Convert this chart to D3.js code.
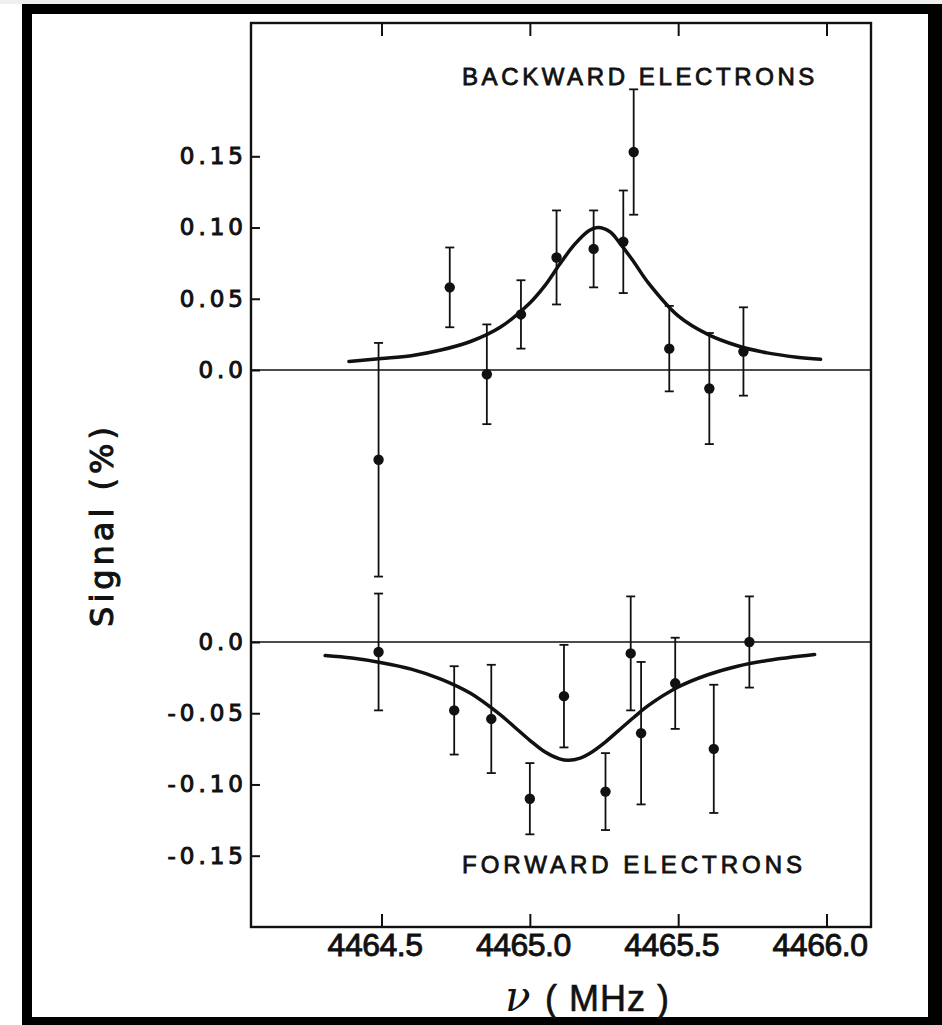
<!DOCTYPE html>
<html>
<head>
<meta charset="utf-8">
<script src="https://cdn.jsdelivr.net/npm/d3@7"></script>
<style>
  html, body { margin: 0; padding: 0; background: #ffffff; }
  svg { display: block; }
</style>
</head>
<body>
<svg id="chart" width="942" height="1025"></svg>
<script>
// Backward-electron signal: frequency (MHz), signal (%), error bar half-length
const freqBack = [4464.49, 4464.73, 4464.855, 4464.97, 4465.09, 4465.215, 4465.315, 4465.35, 4465.47, 4465.605, 4465.72];
const sigBack  = [-0.063, 0.058, -0.003, 0.039, 0.079, 0.085, 0.090, 0.153, 0.015, -0.013, 0.013];
const errBack  = [0.082, 0.028, 0.035, 0.024, 0.033, 0.027, 0.036, 0.044, 0.030, 0.039, 0.031];

// Forward-electron signal
const freqFwd = [4464.49, 4464.745, 4464.87, 4465.0, 4465.115, 4465.255, 4465.34, 4465.375, 4465.49, 4465.62, 4465.74];
const sigFwd  = [-0.007, -0.048, -0.054, -0.110, -0.038, -0.105, -0.008, -0.064, -0.029, -0.075, 0.0];
const errFwd  = [0.041, 0.031, 0.038, 0.025, 0.036, 0.027, 0.040, 0.050, 0.032, 0.045, 0.032];

// Resonance fit curves
const fitBackFreq = [4464.39, 4464.5, 4464.6, 4464.7, 4464.8, 4464.9, 4465.0, 4465.05, 4465.1, 4465.15, 4465.2, 4465.23, 4465.27, 4465.3, 4465.35, 4465.4, 4465.5, 4465.6, 4465.7, 4465.8, 4465.9, 4465.98];
const fitBackSig  = [0.006, 0.008, 0.010, 0.014, 0.020, 0.030, 0.047, 0.059, 0.074, 0.088, 0.098, 0.100, 0.097, 0.090, 0.076, 0.061, 0.038, 0.025, 0.017, 0.012, 0.009, 0.0075];

const fitFwdFreq = [4464.31, 4464.4, 4464.5, 4464.6, 4464.7, 4464.8, 4464.9, 4464.95, 4465.0, 4465.05, 4465.1, 4465.13, 4465.17, 4465.2, 4465.25, 4465.3, 4465.35, 4465.4, 4465.5, 4465.6, 4465.7, 4465.8, 4465.96];
const fitFwdSig  = [-0.0095, -0.0113, -0.0145, -0.019, -0.026, -0.036, -0.051, -0.060, -0.069, -0.077, -0.082, -0.083, -0.0815, -0.0785, -0.071, -0.062, -0.053, -0.0445, -0.0316, -0.023, -0.017, -0.013, -0.0088];

// Axis ticks and labels
const freqTicks = [4464.5, 4465.0, 4465.5, 4466.0];
const backTicks = [0, 0.05, 0.10, 0.15];
const backTickLabels = ["0.0", "0.05", "0.10", "0.15"];
const fwdTicks = [0, -0.05, -0.10, -0.15];
const fwdTickLabels = ["0.0", "-0.05", "-0.10", "-0.15"];

const svg = d3.select("#chart");
const W = 942, H = 1025;

// Page and outer black border
svg.append("rect").attr("x", 0).attr("y", 0).attr("width", W).attr("height", H).attr("fill", "#ffffff");
svg.append("rect").attr("x", 0).attr("y", 0).attr("width", W).attr("height", 4).attr("fill", "#eef0f0");
svg.append("path")
  .attr("d", `M22,4H${W}V${H}H22Z M32,14V1017H928V14Z`)
  .attr("fill", "#000")
  .attr("fill-rule", "evenodd");

// Plot box
const L = 251, R = 871, T = 23, B = 927;

const x = d3.scaleLinear().domain([4464.06, 4466.15]).range([L, R]);
const yBack = d3.scaleLinear().domain([0, 0.15]).range([370, 156.3]);
const yFwd = d3.scaleLinear().domain([0, -0.15]).range([642, 855.7]);

const ink = "#111";

// thicken text strokes slightly (printed lettering)
function inked(sel, w) {
  sel.attr("stroke", ink).attr("stroke-width", w).attr("paint-order", "stroke");
}

// Bottom axis with inward ticks
const gx = svg.append("g").attr("transform", `translate(0,${B})`)
  .call(d3.axisBottom(x).tickValues(freqTicks).tickSize(-13).tickPadding(6).tickFormat(d3.format(".1f")));
gx.select(".domain").remove();
gx.selectAll(".tick line").attr("stroke", ink).attr("stroke-width", 2);
gx.selectAll(".tick text")
  .attr("font-family", "'Liberation Sans', Arial, sans-serif")
  .attr("font-size", 32)
  .attr("fill", ink)
  .attr("dx", -7)
  .attr("letter-spacing", "-0.5px")
  .call(inked, 0.9);

// Top axis, ticks only
const gxt = svg.append("g").attr("transform", `translate(0,${T})`)
  .call(d3.axisTop(x).tickValues(freqTicks).tickSize(-13).tickFormat(""));
gxt.select(".domain").remove();
gxt.selectAll(".tick line").attr("stroke", ink).attr("stroke-width", 2);

// Left axes for the two traces
function leftAxis(scale, ticks, labels) {
  const g = svg.append("g").attr("transform", `translate(${L},0)`)
    .call(d3.axisLeft(scale).tickValues(ticks).tickSize(-9).tickPadding(8)
      .tickFormat((d, i) => labels[i]));
  g.select(".domain").remove();
  g.selectAll(".tick line").attr("stroke", ink).attr("stroke-width", 2);
  g.selectAll(".tick text")
    .attr("font-family", "'DejaVu Sans', sans-serif")
    .attr("font-size", 23)
    .attr("fill", ink)
    .attr("letter-spacing", "4px")
    .attr("dx", 4)
    .call(inked, 1.0);
  return g;
}
leftAxis(yBack, backTicks, backTickLabels);
leftAxis(yFwd, fwdTicks, fwdTickLabels);

// Zero reference lines
svg.append("line").attr("x1", L).attr("x2", R).attr("y1", yBack(0)).attr("y2", yBack(0))
  .attr("stroke", ink).attr("stroke-width", 1.4);
svg.append("line").attr("x1", L).attr("x2", R).attr("y1", yFwd(0)).attr("y2", yFwd(0))
  .attr("stroke", ink).attr("stroke-width", 1.4);

// Frame
svg.append("rect").attr("x", L).attr("y", T).attr("width", R - L).attr("height", B - T)
  .attr("fill", "none").attr("stroke", ink).attr("stroke-width", 2.4);

// Fit curves
const lineBack = d3.line().x(d => x(d[0])).y(d => yBack(d[1])).curve(d3.curveCatmullRom.alpha(0.5));
const lineFwd = d3.line().x(d => x(d[0])).y(d => yFwd(d[1])).curve(d3.curveCatmullRom.alpha(0.5));
svg.append("path").datum(d3.zip(fitBackFreq, fitBackSig)).attr("d", lineBack)
  .attr("fill", "none").attr("stroke", ink).attr("stroke-width", 3.5).attr("stroke-linecap", "round");
svg.append("path").datum(d3.zip(fitFwdFreq, fitFwdSig)).attr("d", lineFwd)
  .attr("fill", "none").attr("stroke", ink).attr("stroke-width", 3.5).attr("stroke-linecap", "round");

// Data points with error bars
function drawPoints(freq, sig, err, y) {
  const data = d3.zip(freq, sig, err);
  const g = svg.append("g");
  const cap = 4.5;
  const pts = g.selectAll("g.pt").data(data).join("g").attr("class", "pt");
  pts.append("line")
    .attr("x1", d => x(d[0])).attr("x2", d => x(d[0]))
    .attr("y1", d => y(d[1] + d[2])).attr("y2", d => y(d[1] - d[2]))
    .attr("stroke", ink).attr("stroke-width", 1.8);
  pts.append("line")
    .attr("x1", d => x(d[0]) - cap).attr("x2", d => x(d[0]) + cap)
    .attr("y1", d => y(d[1] + d[2])).attr("y2", d => y(d[1] + d[2]))
    .attr("stroke", ink).attr("stroke-width", 1.8);
  pts.append("line")
    .attr("x1", d => x(d[0]) - cap).attr("x2", d => x(d[0]) + cap)
    .attr("y1", d => y(d[1] - d[2])).attr("y2", d => y(d[1] - d[2]))
    .attr("stroke", ink).attr("stroke-width", 1.8);
  pts.append("circle")
    .attr("cx", d => x(d[0])).attr("cy", d => y(d[1])).attr("r", 5.2)
    .attr("fill", ink);
}
drawPoints(freqBack, sigBack, errBack, yBack);
drawPoints(freqFwd, sigFwd, errFwd, yFwd);

// Trace titles
const titleFont = "'Liberation Sans', Arial, sans-serif";
svg.append("text").attr("x", 462).attr("y", 85)
  .attr("font-family", titleFont).attr("font-size", 24).attr("letter-spacing", "3.6px")
  .attr("fill", ink).call(inked, 0.8).text("BACKWARD ELECTRONS");
svg.append("text").attr("x", 462).attr("y", 873)
  .attr("font-family", titleFont).attr("font-size", 24).attr("letter-spacing", "4px")
  .attr("fill", ink).call(inked, 0.8).text("FORWARD ELECTRONS");

// Axis titles
svg.append("text")
  .attr("transform", `translate(113,525) rotate(-90)`)
  .attr("text-anchor", "middle")
  .attr("font-family", "'DejaVu Sans', sans-serif").attr("font-size", 32)
  .attr("letter-spacing", "4px")
  .attr("fill", ink).call(inked, 1.0).text("Signal (%)");

const xt = svg.append("text").attr("y", 1011).attr("fill", ink);
xt.append("tspan").attr("x", 505)
  .attr("font-family", "'DejaVu Serif', serif").attr("font-style", "italic").attr("font-size", 42)
  .text("ν");
xt.append("tspan").attr("x", 545)
  .attr("font-family", "'Liberation Sans', Arial, sans-serif").attr("font-size", 36)
  .attr("letter-spacing", "1px")
  .call(inked, 0.6)
  .text("( MHz )");
</script>
</body>
</html>
